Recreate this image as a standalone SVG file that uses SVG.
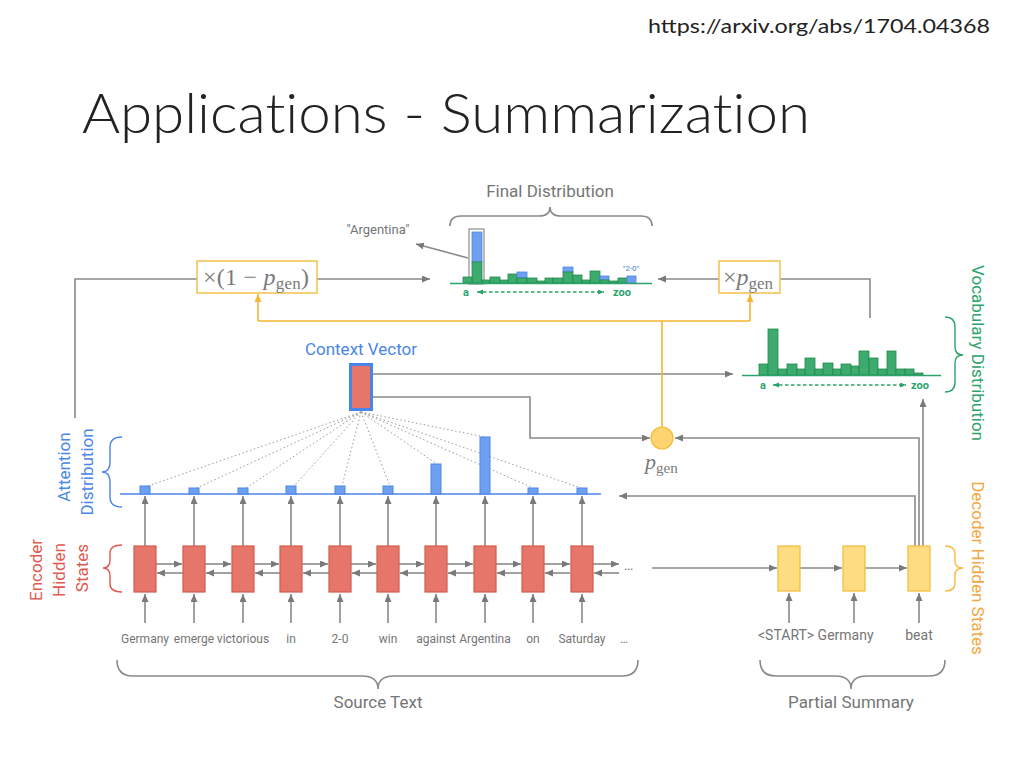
<svg xmlns="http://www.w3.org/2000/svg" width="1024" height="768" viewBox="0 0 1024 768">
<defs>
<style>
.t{font-family:Roboto,"Liberation Sans",sans-serif;fill:#757575}
.ln{fill:none;stroke:#8a8a8a;stroke-width:1.6}
.ar{marker-end:url(#ga)}
.or{fill:none;stroke:#f5b630;stroke-width:1.6}
.dot{fill:none;stroke:#9a9a9a;stroke-width:1;stroke-dasharray:1.5 2.5}
.enc{fill:#e6766a;stroke:#d65a50;stroke-width:1.2}
.dec{fill:#fddc82;stroke:#f4bb3a;stroke-width:1.2}
.att{fill:#6fa0f0;stroke:#4a86e8;stroke-width:1}
.gb{fill:#3daa6e;stroke:#23884f;stroke-width:0.8}
.bb{fill:#6fa0f0;stroke:#4a86e8;stroke-width:0.8}
.m{font-family:"Liberation Serif","DejaVu Serif",serif;fill:#7a7a7a}
.w{font-size:12px;text-anchor:middle}
.gd{fill:none;stroke:#2ca36a;stroke-width:1.3;stroke-dasharray:3.5 2.5;marker-start:url(#gr);marker-end:url(#gr)}
.gl{font-family:Roboto,sans-serif;font-size:11px;font-weight:bold;fill:#2ca36a;text-anchor:middle}
</style>
<marker id="ga" markerUnits="userSpaceOnUse" markerWidth="9" markerHeight="8" refX="8" refY="3.5" orient="auto"><path d="M0,0 L8,3.5 L0,7 z" fill="#7a7a7a"/></marker>
<marker id="oa" markerUnits="userSpaceOnUse" markerWidth="9" markerHeight="8" refX="8" refY="3.5" orient="auto"><path d="M0,0 L8,3.5 L0,7 z" fill="#f5b630"/></marker>
<marker id="gr" markerUnits="userSpaceOnUse" markerWidth="7" markerHeight="6" refX="6" refY="2.5" orient="auto-start-reverse"><path d="M0,0 L6,2.5 L0,5 z" fill="#2ca36a"/></marker>
</defs>
<rect width="1024" height="768" fill="#fff"/>

<g id="title">
<text x="648" y="33" font-family="Lato,'Open Sans',sans-serif" font-size="20" fill="#222" textLength="342" lengthAdjust="spacingAndGlyphs">https://arxiv.org/abs/1704.04368</text>
<text x="82" y="133" font-family="Lato,'Open Sans',sans-serif" font-weight="300" font-size="56" fill="#222" style="font-variant-ligatures:none" textLength="728" lengthAdjust="spacingAndGlyphs">Applications - Summarization</text>
</g>

<g id="connectors">
<!-- encoder inputs -->
<path class="ln ar" d="M145,623V594"/><path class="ln ar" d="M194,623V594"/><path class="ln ar" d="M243,623V594"/><path class="ln ar" d="M291,623V594"/><path class="ln ar" d="M340,623V594"/>
<path class="ln ar" d="M388,623V594"/><path class="ln ar" d="M436,623V594"/><path class="ln ar" d="M485,623V594"/><path class="ln ar" d="M533,623V594"/><path class="ln ar" d="M582,623V594"/>
<!-- encoder outputs -->
<path class="ln ar" d="M145,546V496"/><path class="ln ar" d="M194,546V496"/><path class="ln ar" d="M243,546V496"/><path class="ln ar" d="M291,546V496"/><path class="ln ar" d="M340,546V496"/>
<path class="ln ar" d="M388,546V496"/><path class="ln ar" d="M436,546V496"/><path class="ln ar" d="M485,546V496"/><path class="ln ar" d="M533,546V496"/><path class="ln ar" d="M582,546V496"/>
<!-- forward -->
<path class="ln ar" d="M156,564H182"/><path class="ln ar" d="M205,564H231"/><path class="ln ar" d="M254,564H279"/><path class="ln ar" d="M302,564H328"/><path class="ln ar" d="M351,564H376"/>
<path class="ln ar" d="M399,564H424"/><path class="ln ar" d="M447,564H473"/><path class="ln ar" d="M496,564H521"/><path class="ln ar" d="M544,564H570"/><path class="ln ar" d="M593,564H619"/>
<!-- backward -->
<path class="ln ar" d="M183,573H157"/><path class="ln ar" d="M232,573H206"/><path class="ln ar" d="M280,573H255"/><path class="ln ar" d="M329,573H303"/><path class="ln ar" d="M377,573H352"/>
<path class="ln ar" d="M425,573H400"/><path class="ln ar" d="M474,573H448"/><path class="ln ar" d="M522,573H497"/><path class="ln ar" d="M570,573H545"/><path class="ln ar" d="M619,573H594"/>
<!-- decoder -->
<path class="ln ar" d="M789,623V593"/><path class="ln ar" d="M854,623V593"/><path class="ln ar" d="M919,623V593"/>
<path class="ln ar" d="M652,568H777"/><path class="ln ar" d="M800,568H842"/><path class="ln ar" d="M865,568H907"/>
<path class="ln ar" d="M915,546V496H619"/>
<path class="ln ar" d="M919,546V438H675"/>
<path class="ln ar" d="M923,546V399"/>
<!-- context vector -->
<path class="ln ar" d="M372,374H733"/>
<path class="ln ar" d="M372,397H530V438H650"/>
<!-- dotted attention -->
<path class="dot" d="M361,412L148,486 M361,412L197,488 M361,412L246,488 M361,412L294,486 M361,412L342,486 M361,412L390,486 M361,412L437,464 M361,412L485,437 M361,412L533,488 M361,412L581,488"/>
<!-- to final distribution -->
<path class="ln" d="M75,418V279H197"/>
<path class="ln ar" d="M317,279H430"/>
<path class="ln" d="M870,318V279H780"/>
<path class="ln ar" d="M719,279H658"/>
<path class="ln ar" d="M468,258L416,244"/>
<!-- p_gen -->
<path class="or" d="M662,427V321 M258,321H750"/>
<path class="or" marker-end="url(#oa)" d="M258,321V294"/>
<path class="or" marker-end="url(#oa)" d="M750,321V294"/>
</g>

<g id="encoder">
<rect class="enc" x="134" y="546" width="22" height="46"/>
<rect class="enc" x="183" y="546" width="22" height="46"/>
<rect class="enc" x="232" y="546" width="22" height="46"/>
<rect class="enc" x="280" y="546" width="22" height="46"/>
<rect class="enc" x="329" y="546" width="22" height="46"/>
<rect class="enc" x="377" y="546" width="22" height="46"/>
<rect class="enc" x="425" y="546" width="22" height="46"/>
<rect class="enc" x="474" y="546" width="22" height="46"/>
<rect class="enc" x="522" y="546" width="22" height="46"/>
<rect class="enc" x="571" y="546" width="22" height="46"/>
<text class="t" x="624" y="570" font-size="14">…</text>
</g>

<g id="source-words" class="t">
<text class="w" x="145" y="643">Germany</text>
<text class="w" x="194" y="643">emerge</text>
<text class="w" x="243" y="643">victorious</text>
<text class="w" x="291" y="643">in</text>
<text class="w" x="340" y="643">2-0</text>
<text class="w" x="388" y="643">win</text>
<text class="w" x="436" y="643">against</text>
<text class="w" x="485" y="643">Argentina</text>
<text class="w" x="533" y="643">on</text>
<text class="w" x="582" y="643">Saturday</text>
<text class="w" x="624" y="643">…</text>
</g>

<g id="attention">
<line x1="120" y1="494" x2="601" y2="494" stroke="#4a86e8" stroke-width="1.6"/>
<rect class="att" x="140" y="486" width="10" height="8"/>
<rect class="att" x="189" y="488" width="10" height="6"/>
<rect class="att" x="238" y="488" width="10" height="6"/>
<rect class="att" x="286" y="486" width="10" height="8"/>
<rect class="att" x="335" y="486" width="10" height="8"/>
<rect class="att" x="383" y="486" width="10" height="8"/>
<rect class="att" x="431" y="464" width="10" height="30"/>
<rect class="att" x="480" y="437" width="10" height="57"/>
<rect class="att" x="528" y="488" width="10" height="6"/>
<rect class="att" x="577" y="488" width="10" height="6"/>
</g>

<g id="context-vector">
<text x="361" y="355" font-family="Roboto,'Liberation Sans',sans-serif" font-size="17" fill="#4a86e8" text-anchor="middle">Context Vector</text>
<rect x="350.5" y="364.5" width="21" height="45" fill="#e6766a" stroke="#4a86e8" stroke-width="3"/>
</g>

<g id="pgen">
<circle cx="662" cy="438" r="11" fill="#fdd470" stroke="#f4bb3a" stroke-width="1.2"/>
<text class="m" x="645" y="469" font-size="22" font-style="italic">p<tspan font-style="normal" font-size="15" dy="4">gen</tspan></text>
</g>

<g id="one-minus-pgen">
<rect x="197" y="261" width="120" height="32" fill="#fff" stroke="#f5c04a" stroke-width="1.5"/>
<text class="m" x="203" y="285" font-size="24" textLength="106" lengthAdjust="spacing">×(1 − <tspan font-style="italic">p</tspan><tspan font-size="17" dy="4">gen</tspan><tspan dy="-4">)</tspan></text>
</g>

<g id="times-pgen">
<rect x="719" y="261" width="61" height="32" fill="#fff" stroke="#f5c04a" stroke-width="1.5"/>
<text class="m" x="723" y="285" font-size="24">×<tspan font-style="italic">p</tspan><tspan font-size="17" dy="4">gen</tspan></text>
</g>

<g id="final-distribution">
<text class="t" x="550" y="197" font-size="17" text-anchor="middle">Final Distribution</text>
<path class="ln" stroke-width="1.3" d="M450,226Q450,216 461,216L539,216Q550,216 550,207Q550,216 561,216L641,216Q652,216 652,226"/>
<text class="t" x="378" y="234" font-size="13" text-anchor="middle">"Argentina"</text>
<rect x="469" y="229" width="15" height="55" fill="none" stroke="#777" stroke-width="1"/>
<rect class="bb" x="472" y="232" width="10" height="30"/>
<rect class="gb" x="472" y="262" width="10" height="21"/>
<rect class="gb" x="463" y="277" width="9" height="6"/>
<rect class="gb" x="482" y="280" width="8" height="3"/>
<rect class="gb" x="490" y="277" width="10" height="6"/>
<rect class="gb" x="500" y="280" width="8" height="3"/>
<rect class="gb" x="508" y="274" width="9" height="9"/>
<rect class="bb" x="517" y="272" width="10" height="6"/>
<rect class="gb" x="517" y="278" width="10" height="5"/>
<rect class="gb" x="527" y="278" width="10" height="5"/>
<rect class="gb" x="537" y="281" width="8" height="2"/>
<rect class="gb" x="545" y="278" width="8" height="5"/>
<rect class="gb" x="553" y="278" width="10" height="5"/>
<rect class="bb" x="563" y="267" width="10" height="5"/>
<rect class="gb" x="563" y="272" width="10" height="11"/>
<rect class="gb" x="573" y="275" width="9" height="8"/>
<rect class="gb" x="582" y="280" width="8" height="3"/>
<rect class="gb" x="590" y="271" width="10" height="12"/>
<rect class="bb" x="600" y="276" width="9" height="4"/>
<rect class="gb" x="600" y="280" width="9" height="3"/>
<rect class="gb" x="609" y="281" width="9" height="2"/>
<rect class="gb" x="618" y="278" width="9" height="5"/>
<rect class="bb" x="627" y="276" width="9" height="7"/>
<line x1="450" y1="283.5" x2="652" y2="283.5" stroke="#2ca36a" stroke-width="1.5"/>
<text x="631" y="271" font-family="Roboto,sans-serif" font-size="8" fill="#4a86e8" text-anchor="middle">"2-0"</text>
<text class="gl" x="466" y="296">a</text>
<path class="gd" d="M477,292H604"/>
<text class="gl" x="622" y="296">zoo</text>
</g>

<g id="vocabulary-distribution">
<rect class="gb" x="759" y="364" width="9" height="11"/>
<rect class="gb" x="768" y="329" width="10" height="46"/>
<rect class="gb" x="778" y="369" width="9" height="6"/>
<rect class="gb" x="787" y="364" width="10" height="11"/>
<rect class="gb" x="797" y="369" width="8" height="6"/>
<rect class="gb" x="805" y="358" width="10" height="17"/>
<rect class="gb" x="815" y="369" width="8" height="6"/>
<rect class="gb" x="823" y="363" width="10" height="12"/>
<rect class="gb" x="833" y="369" width="8" height="6"/>
<rect class="gb" x="841" y="364" width="10" height="11"/>
<rect class="gb" x="851" y="366" width="8" height="9"/>
<rect class="gb" x="859" y="351" width="10" height="24"/>
<rect class="gb" x="869" y="358" width="9" height="17"/>
<rect class="gb" x="878" y="369" width="9" height="6"/>
<rect class="gb" x="887" y="351" width="9" height="24"/>
<rect class="gb" x="896" y="369" width="9" height="6"/>
<rect class="gb" x="905" y="369" width="9" height="6"/>
<rect class="gb" x="914" y="373" width="9" height="2"/>
<line x1="742" y1="375.5" x2="941" y2="375.5" stroke="#2ca36a" stroke-width="1.5"/>
<text class="gl" x="763" y="389">a</text>
<path class="gd" d="M773,385H906"/>
<text class="gl" x="920" y="389">zoo</text>
<path d="M945,317Q955,317 955,327L955,347Q955,355 963,355Q955,355 955,363L955,382Q955,392 945,392" fill="none" stroke="#2ca36a" stroke-width="1.4"/>
<text transform="translate(972,353) rotate(90)" font-family="Roboto,'Liberation Sans',sans-serif" font-size="17" fill="#2ca36a" text-anchor="middle">Vocabulary Distribution</text>
</g>

<g id="decoder">
<rect class="dec" x="778" y="546" width="22" height="45"/>
<rect class="dec" x="843" y="546" width="22" height="45"/>
<rect class="dec" x="908" y="546" width="22" height="45"/>
<text class="t" x="758" y="640" font-size="14">&lt;START&gt; Germany</text>
<text class="t" x="919" y="640" font-size="14" text-anchor="middle">beat</text>
<path d="M945,546Q955,546 955,554L955,561Q955,568 963,568Q955,568 955,575L955,583Q955,591 945,591" fill="none" stroke="#f4bb3a" stroke-width="1.4"/>
<text transform="translate(972,568) rotate(90)" font-family="Roboto,'Liberation Sans',sans-serif" font-size="17" fill="#f4a742" text-anchor="middle">Decoder Hidden States</text>
</g>

<g id="left-labels">
<path d="M122,437Q110,437 110,447L110,462Q110,472 102,472Q110,472 110,482L110,497Q110,507 122,507" fill="none" stroke="#4a86e8" stroke-width="1.4"/>
<text transform="translate(70,467) rotate(-90)" font-family="Roboto,'Liberation Sans',sans-serif" font-size="17" fill="#4a86e8" text-anchor="middle">Attention</text>
<text transform="translate(93,472) rotate(-90)" font-family="Roboto,'Liberation Sans',sans-serif" font-size="17" fill="#4a86e8" text-anchor="middle">Distribution</text>
<path d="M122,545Q110,545 110,553L110,560Q110,568 103,568Q110,568 110,576L110,584Q110,592 122,592" fill="none" stroke="#e05a4f" stroke-width="1.4"/>
<text transform="translate(42,570) rotate(-90)" font-family="Roboto,'Liberation Sans',sans-serif" font-size="17" fill="#e05a4f" text-anchor="middle">Encoder</text>
<text transform="translate(65,570) rotate(-90)" font-family="Roboto,'Liberation Sans',sans-serif" font-size="17" fill="#e05a4f" text-anchor="middle">Hidden</text>
<text transform="translate(88,568) rotate(-90)" font-family="Roboto,'Liberation Sans',sans-serif" font-size="17" fill="#e05a4f" text-anchor="middle">States</text>
</g>

<g id="bottom-braces">
<path class="ln" stroke-width="1.3" d="M117,660Q117,676 133,676L362,676Q378,676 378,689Q378,676 394,676L622,676Q638,676 638,660"/>
<text class="t" x="378" y="708" font-size="17" text-anchor="middle">Source Text</text>
<path class="ln" stroke-width="1.3" d="M760,660Q760,676 776,676L835,676Q851,676 851,689Q851,676 867,676L929,676Q945,676 945,660"/>
<text class="t" x="851" y="708" font-size="17" text-anchor="middle">Partial Summary</text>
</g>
</svg>
